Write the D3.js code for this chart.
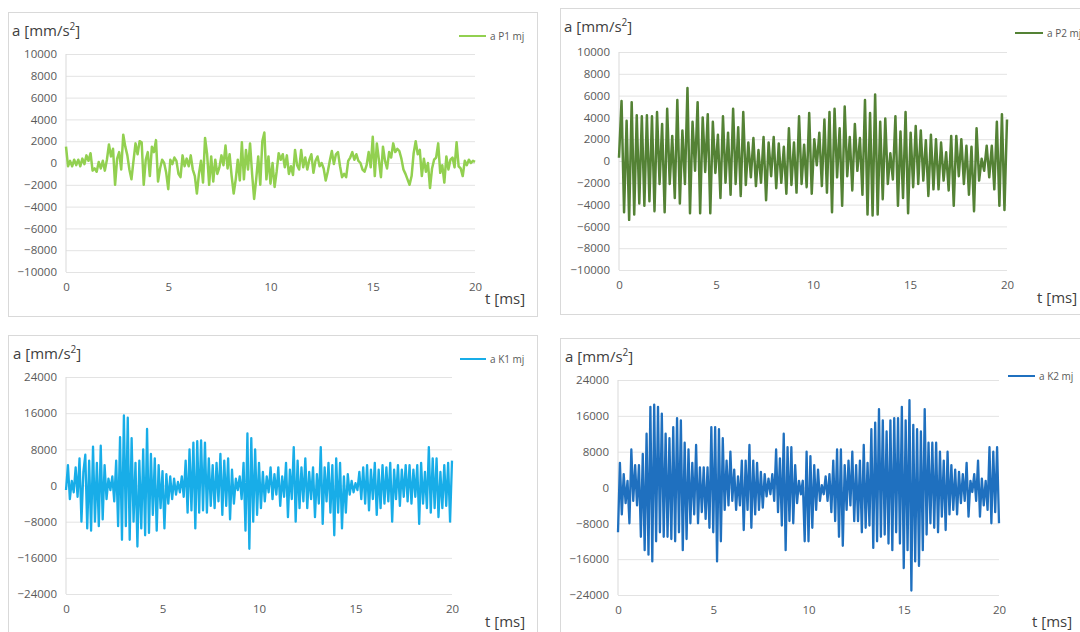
<!DOCTYPE html>
<html><head><meta charset="utf-8">
<script src="https://cdn.jsdelivr.net/npm/d3@7"></script>
<style>
body{margin:0;background:#fff}
svg{display:block}
text{font-family:"Open Sans","Noto Sans",sans-serif}
</style>
</head><body>
<svg id="c" width="1080" height="632"></svg>
<script>
// ---------- data ----------
const xTicks = [0, 5, 10, 15, 20];
const yTicksP = [10000, 8000, 6000, 4000, 2000, 0, -2000, -4000, -6000, -8000, -10000];
const yTicksK = [24000, 16000, 8000, 0, -8000, -16000, -24000];
const seriesNames = ["a P1 mj", "a P2 mj", "a K1 mj", "a K2 mj"];
const yTitle = "a [mm/s";
const xTitle = "t [ms]";

const p1 = [
 1500,-300,200,-300,300,-200,300,-300,400,-100,
 700,200,900,-700,-500,-800,100,-500,200,-700,
 300,1700,600,1300,-2000,400,1000,-600,2600,1500,
 700,-600,-1500,200,1800,800,2000,1900,-2000,300,
 1000,-1200,1500,1000,2100,-1700,-500,300,0,-900,
 -2400,300,-100,500,200,-1000,-1300,700,-300,400,
 -300,700,-600,-1200,-2800,-1000,200,-1800,2300,800,
 -2000,600,-1700,300,-1000,-400,700,-200,1600,-500,
 800,-1200,-2800,-1500,300,-1600,1900,-1500,1200,-600,
 1800,-1000,-3300,-1500,600,-2000,2000,2800,-1500,600,
 -1900,0,-2200,-800,900,300,800,-400,700,-1000,
 -300,-1100,1200,-200,-600,1200,-400,500,-600,300,
 800,-900,200,600,-300,0,-500,-1600,-800,200,
 1100,-100,800,1000,-300,-1300,-1000,-1300,200,500,
 1000,300,800,200,0,-600,-800,-200,1000,-400,
 2400,-1200,1800,300,-1300,1500,200,-500,1000,500,
 1800,1000,1300,1100,400,-600,-1000,-1500,-2000,-1200,
 900,2000,800,1200,-1200,400,-800,0,-2300,-500,
 300,500,1800,-900,-200,-1800,600,-600,300,500,
 -400,1900,-300,-500,-1200,200,-200,300,0,200,
 100
];

const p2 = [300,
 5500,-4700,3700,-5400,5400,-4900,4200,-3900,4100,-4100,4200,-3700,4100,-4600,4500,-2100,
 3400,-4700,4800,-2100,2300,-3400,5600,-3900,2800,-2100,6700,-4800,3600,-900,5400,-4800,
 4000,-1000,4300,-4800,3600,-1100,2400,-3400,4100,-2000,2600,-3100,4800,-2100,3100,-3200,
 4500,-2200,1700,-1500,2100,-2300,1000,-2000,2200,-3600,1700,-1400,2200,-2500,1600,-2000,
 1300,-3000,3000,-2200,1700,-2900,4100,-2100,1500,-2400,
 4400,-3000,2000,-400,2600,-2300,3800,-2900,4500,-4700,4800,-1500,3000,-4100,5000,-1400,
 2200,-2700,3400,-900,2100,-3100,5600,-4900,4400,-5000,6100,-4900,3600,-3500,3900,-2100,
 700,-1700,4100,-4100,2700,-3400,4500,-4800,2600,-2400,3200,-2100,2800,-1800,1900,-3200,
 2400,-2600,2000,-2600,1700,-1800,800,-2700,2300,-4100,2300,-1400,2000,-2100,1400,-3100,
 1300,-4600,3000,-1800,200,-900,1400,-1500,1400,-2600,3600,-4100,4300,-4500,3800
];

const k1 = [
 -1000,4500,-3000,1000,-1500,4000,-2500,6000,-8000,3000,
 6800,-9500,5500,-10000,8600,-8000,5000,-9000,8800,-7500,
 4500,-3000,1500,-1000,2000,-3500,5500,-9000,10700,-12000,
 15500,-9000,15000,-12000,10500,-8000,5000,-13500,5500,-9500,
 8000,-11000,12500,-10500,7000,-6500,6000,-10000,4500,-5000,
 3200,-9500,2500,-4000,2000,-3000,1500,-2000,800,-1500,
 2000,-2500,5500,-6000,8000,-5500,9500,-9500,9800,-6000,
 10000,-5500,9500,-6000,6000,-4500,4500,-5000,5000,-3500,
 7000,-6500,5500,-4500,6000,-7500,3500,-4000,1500,-1000,
 2000,-3000,5000,-10000,11500,-14000,10500,-8000,8000,-6500,
 5000,-5000,3000,-3500,2000,-1500,4000,-3000,2500,-2000,
 4000,-4500,2000,-2500,5000,-7000,3500,-3000,8500,-8000,
 5500,-5000,4000,-3500,6000,-5000,3000,-3000,4000,-7000,
 2500,-4000,8500,-8500,4000,-3500,5000,-6000,4500,-11000,
 6000,-6000,5000,-9500,2000,-6000,2500,-2000,1000,-1500,
 500,-1000,3000,-3000,4000,-4000,4500,-5500,3500,-3000,
 5000,-6500,3500,-5000,4500,-4000,4000,-3500,5000,-8000,
 3500,-3000,4500,-4500,3500,-2500,4500,-3500,4500,-4000,
 3500,-2500,4500,-8500,5000,-4000,3000,-5000,8500,-6000,
 6000,-5000,6000,-7000,3000,-5000,4500,-4500,5000,-8000,
 5500
];

const k2 = [
 -10000,5500,-6000,3000,-3500,1500,-8000,8500,-3000,5000,
 -4000,5000,-11000,7500,-14000,12000,-15000,18000,-16500,18500,
 -12000,18000,-10000,16500,-11000,12000,-11000,11000,-11500,13500,
 -12000,15500,-10000,15000,-14000,10000,-11500,8500,-8000,5500,
 -6000,9500,-8000,4500,-5500,4500,-7000,4500,-9000,13500,
 -10000,13500,-16500,13000,-12000,11000,-5000,6000,-4000,8000,
 -3000,4000,-5000,2500,-4000,6000,-9500,6000,-5000,9500,
 -9000,6000,-6000,5500,-5000,3500,-4500,3000,-2000,2000,
 -1500,3000,-3000,8500,-5500,6500,-8500,12000,-14000,9000,
 -7500,9000,-8000,5000,-3500,1500,-1500,1500,-12000,8000,
 -12000,7000,-9000,5000,-5000,4000,-3000,500,-1500,2500,
 -3000,3000,-5500,6000,-7500,8500,-11000,8500,-13000,5000,
 -5000,6000,-4000,8000,-7500,5000,-7500,6000,-10000,9500,
 -9000,5500,-8500,13000,-13500,14500,-12000,17500,-11000,15000,
 -10500,12500,-12500,15000,-14000,15500,-10000,15500,-12500,18000,
 -18000,15000,-14000,19500,-23000,14000,-16500,13000,-17500,12500,
 -14000,17500,-10500,10000,-8000,10000,-9000,10000,-10000,8000,
 -6500,6000,-9500,8000,-6000,5000,-5000,4000,-6000,3500,
 -3500,3000,-3000,5500,-6500,1500,-1000,3000,-3000,6000,
 -6500,2000,-4000,1500,-5000,9000,-8000,8000,-5500,9000,
 -8000
];

// ---------- layout ----------
const panels = [
  {name: seriesNames[0], values: p1, color: "#92d050", width: 2.5, yTicks: yTicksP, domain: [-10000, 10000],
   box: [8.5, 12.5, 529, 304], plot: {l: 66, r: 475, t: 54, b: 272},
   yt: [12, 36], xt: [485, 304], lg: [459, 486, 36]},
  {name: seriesNames[1], values: p2, color: "#548235", width: 2.5, yTicks: yTicksP, domain: [-10000, 10000],
   box: [560.5, 8.5, 540, 306], plot: {l: 619, r: 1007, t: 52, b: 270},
   yt: [564, 32], xt: [1037, 303], lg: [1015, 1043, 33]},
  {name: seriesNames[2], values: k1, color: "#18ade8", width: 2.3, yTicks: yTicksK, domain: [-24000, 24000],
   box: [8.5, 335.5, 529, 320], plot: {l: 66, r: 452, t: 377, b: 594},
   yt: [13, 359], xt: [485, 627], lg: [460, 486, 359]},
  {name: seriesNames[3], values: k2, color: "#1f70bf", width: 2.3, yTicks: yTicksK, domain: [-24000, 24000],
   box: [560.5, 338.5, 540, 320], plot: {l: 618, r: 999, t: 380, b: 595},
   yt: [565, 362], xt: [1032, 627], lg: [1008, 1035, 376]}
];

const svg = d3.select("#c");
svg.append("rect").attr("width", 1080).attr("height", 632).attr("fill", "#fff");

panels.forEach(p => {
  const g = svg.append("g");
  g.append("rect").attr("x", p.box[0]).attr("y", p.box[1]).attr("width", p.box[2]).attr("height", p.box[3])
    .attr("fill", "#fff").attr("stroke", "#d9d9d9").attr("stroke-width", 1);

  const x = d3.scaleLinear().domain([0, 20]).range([p.plot.l, p.plot.r]);
  const y = d3.scaleLinear().domain(p.domain).range([p.plot.b, p.plot.t]);
  const n = p.values.length;
  const t = p.values.map((_, i) => 20 * i / (n - 1));

  // y axis with gridlines
  const ya = g.append("g").attr("transform", `translate(${p.plot.l},0)`)
    .call(d3.axisLeft(y).tickValues(p.yTicks).tickSize(-(p.plot.r - p.plot.l)).tickPadding(9).tickFormat(d3.format("d")));
  ya.select(".domain").remove();
  ya.selectAll(".tick line").attr("stroke", "#e3e3e3").attr("stroke-width", 1);
  ya.selectAll(".tick text").attr("fill", "#595959").style("font-size", "11.5px");

  // vertical axis line
  g.append("line").attr("x1", p.plot.l).attr("x2", p.plot.l).attr("y1", p.plot.t).attr("y2", p.plot.b)
    .attr("stroke", "#d9d9d9").attr("stroke-width", 1);

  // x axis
  const xa = g.append("g").attr("transform", `translate(0,${p.plot.b})`)
    .call(d3.axisBottom(x).tickValues(xTicks).tickSize(0).tickPadding(11).tickFormat(d3.format("d")));
  xa.select(".domain").remove();
  xa.selectAll(".tick text").attr("fill", "#595959").style("font-size", "11.5px");

  // series line
  const line = d3.line().x((d, i) => x(t[i])).y(d => y(d));
  g.append("path").datum(p.values).attr("d", line).attr("fill", "none")
    .attr("stroke", p.color).attr("stroke-width", p.width).attr("stroke-linejoin", "round");

  // titles
  const ytx = g.append("text").attr("x", p.yt[0]).attr("y", p.yt[1]).attr("fill", "#404040").style("font-size", "15px");
  ytx.append("tspan").text(yTitle);
  ytx.append("tspan").attr("dy", -6).style("font-size", "10px").text("2");
  ytx.append("tspan").attr("dy", 6).text("]");
  g.append("text").attr("x", p.xt[0]).attr("y", p.xt[1]).attr("fill", "#404040").style("font-size", "15px").text(xTitle);

  // legend
  g.append("line").attr("x1", p.lg[0]).attr("x2", p.lg[1]).attr("y1", p.lg[2]).attr("y2", p.lg[2])
    .attr("stroke", p.color).attr("stroke-width", 2);
  g.append("text").attr("x", p.lg[1] + 4).attr("y", p.lg[2] + 3.5).attr("fill", "#595959")
    .style("font-size", "10px").text(p.name);
});
</script>
</body></html>
